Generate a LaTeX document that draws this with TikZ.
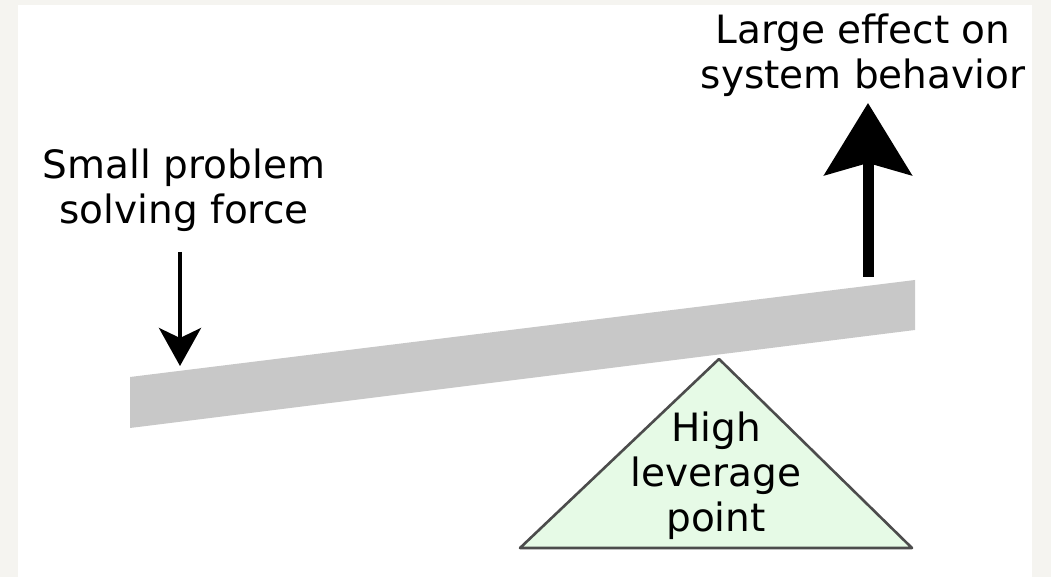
\documentclass[tikz,border=0pt]{standalone}
\usepackage{fontspec}
\setmainfont{DejaVu Sans}
\usepackage{xcolor}
\usepackage{tikz}
\usetikzlibrary{arrows.meta}
\definecolor{pagebg}{HTML}{F5F4F0}
\definecolor{bargray}{HTML}{C8C8C8}
\definecolor{fulcrumgreen}{HTML}{E6FAE6}
\tikzstyle{label} = [inner sep=0pt, align=center, font=\fontsize{19.5}{22.5}\selectfont]
\tikzstyle{smallforce} = [line width=2pt, -{Stealth[length=19pt, width=21pt, inset=5pt]}]
\tikzstyle{bigeffect} = [line width=5.5pt, -{Stealth[length=36pt, width=43.5pt, inset=6pt]}]

\begin{document}
\begin{tikzpicture}[x=0.5pt, y=-0.5pt]
        % Frame
        \fill[pagebg] (0,0) rectangle (1051,577);
        \fill[white] (18,5) rectangle (1032,577);
        \useasboundingbox (0,0) rectangle (1051,577);
        % Lever bar
        \fill[bargray] (130,377) -- (915,280) -- (915,330) -- (130,428) -- cycle;
        % Fulcrum
        \draw[fill=fulcrumgreen, draw=black!70, line width=1.3pt, line join=round] (520,548) -- (719,359) -- (912,548) -- cycle;
        \node[label] (pivot) at (716,476) {High\\leverage\\point};
        % Labels
        \node[label] (force) at (184,190) {Small problem\\solving force};
        \node[label] (effect) at (863,55) {Large effect on\\system behavior};
        % Arrows
        \coordinate (forcestart) at (180,252);
        \coordinate (forceend) at (180,366);
        \coordinate (effectstart) at (868,277);
        \coordinate (effectend) at (868,103);
        \draw[smallforce] (forcestart) -- (forceend);
        \draw[bigeffect] (effectstart) -- (effectend);
        \end{tikzpicture}
\end{document}
